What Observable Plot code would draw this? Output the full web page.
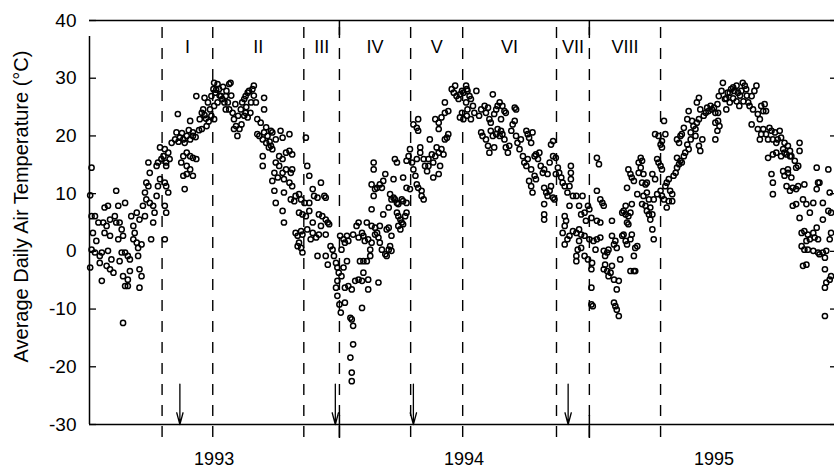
<!DOCTYPE html>
<html><head><meta charset="utf-8">
<script src="https://cdn.jsdelivr.net/npm/d3@7"></script>
<script src="https://cdn.jsdelivr.net/npm/@observablehq/plot@0.6"></script>
<style>body{margin:0;background:#fff} svg{display:block}</style>
</head><body><div id="chart"></div>
<script>
// [day of year (0 = Jan 1), average daily air temperature in °C]
const temps1993 = [
[3,14.5],[1,9.7],[3,6.1],[8,6.1],[13,5.0],[5,3.2],[10,1.8],[3,0.3],[8,-0.2],[15,-0.8],[1,-2.8],[15,-2.0],[18,-5.1],
[22,7.6],[27,7.9],[20,5.0],[25,4.4],[30,5.5],[22,3.2],[30,2.7],[18,-0.2],[27,0.1],[32,-1.4],[25,-2.5],[30,-3.1],[35,-3.7],
[39,10.5],[42,7.9],[37,6.1],[39,5.0],[44,5.0],[47,3.8],[42,2.1],[49,2.7],[52,8.4],[47,-0.2],[44,-1.7],[52,-0.2],[56,-0.8],[59,-1.4],[49,-4.3],[56,-4.9],[59,-3.4],[52,-6.0],[56,-6.0],[49,-12.4],
[61,6.1],[64,4.4],[69,6.7],[66,3.2],[64,2.1],[69,1.5],[71,0.6],[73,5.5],[76,1.2],[71,-0.8],[73,-3.1],[76,-4.3],[73,-6.3],
[81,6.1],[78,7.9],[81,10.2],[83,11.9],[86,11.3],[88,13.6],[86,15.4],[83,9.0],[88,8.4],[93,7.9],[95,6.7],[93,5.0],[90,2.1],[98,9.6],[100,11.3],[103,12.5],[98,14.8],[100,15.4],[105,16.0],[108,16.5],[112,14.8],[110,2.1],
[110,7.9],[112,6.7],[115,10.2],[112,11.3],[110,11.9],[103,18.0],[110,17.7],[115,17.1],[117,16.0],[112,15.4],
[120,18.8],[125,19.4],[127,20.6],[129,23.8],[132,19.7],[137,19.4],[142,20.0],[139,18.8],[147,19.4],[151,20.0],[151,20.6],[137,16.5],[142,17.1],[147,16.5],[151,16.2],[156,16.0],[134,15.4],[142,14.8],[147,14.2],[142,13.4],[137,13.1],[151,13.1],[139,10.8],
[147,22.6],[156,26.9],[161,22.9],[164,24.0],[166,24.6],[168,26.6],[173,25.8],[176,24.6],[178,23.5],[171,21.7],[164,21.2],[178,26.9],[181,28.1],
[170,23.0],[174,22.5],[168,23.6],[160,21.0],[130,19.0],[135,20.5],[145,21.0],[155,19.8],
[182,29.2],[187,29.0],[184,27.5],[189,28.1],[192,26.9],[194,26.4],[197,25.8],[199,26.9],[202,25.8],[204,29.0],[206,29.2],[204,24.6],[209,24.0],[199,24.6],[182,25.2],[182,22.9],[187,25.8],
[185,28.0],[190,27.0],[195,28.5],[200,27.8],[207,27.0],[213,25.5],[217,23.5],[222,22.0],[229,25.0],[235,24.0],[240,27.0],[258,21.5],[263,19.0],
[211,22.9],[214,21.7],[216,20.0],[219,21.2],[211,21.2],[221,24.6],[223,25.8],[226,26.4],[228,26.9],[231,27.5],[233,27.8],[238,28.1],[240,28.7],[236,25.8],[228,24.0],[226,23.5],[231,23.2],[243,25.8],[245,22.9],[250,22.3],[255,26.6],[255,24.6],
[245,20.3],[248,20.0],[253,19.4],[255,20.6],[260,20.0],[265,20.9],[267,20.6],[258,18.8],[262,18.0],[267,17.7],[265,18.3],[253,16.5],[253,14.8],[272,19.4],[279,20.9],[282,19.7],[292,20.3],
[277,16.5],[282,16.0],[287,17.1],[292,17.4],[296,16.8],[272,15.4],[277,14.8],[282,13.6],[287,14.2],[294,13.6],[296,14.2],[270,13.6],[267,12.2],[275,12.8],[284,12.5],[292,11.9],[296,11.3],
[270,10.5],[272,8.4],[284,10.2],[282,7.0],[284,5.0],[294,9.0],[299,8.7],[301,9.6],[306,9.9],[309,9.0],[314,8.4],[321,8.4],[326,10.8],[328,9.6],[333,9.3],[338,11.9],[343,9.6],[345,9.3],[321,13.1],[318,14.8],[316,19.7],
[306,6.7],[311,6.4],[316,6.1],[321,7.0],[326,5.0],[301,3.2],[304,2.7],[309,3.5],[311,2.9],[306,1.5],[304,0.9],[309,0.6],[311,-0.2],[318,3.8],[326,3.2],[323,2.1],[331,2.4],[335,6.4],[340,6.1],[345,5.5],[348,5.0],[350,4.7],[338,4.4],[345,2.9],[335,2.9],[333,-0.8],[345,-0.8],[348,-2.3],[352,0.9],[355,0.3],[357,-0.8],[360,-2.0],[362,-2.8],[364,-3.7],[362,-5.1],[360,-6.3],[362,-7.7]
];
const temps1994 = [
[0,-9.2],[2,-10.6],
[1,2.7],[6,2.1],[3,0.3],[8,1.5],[11,2.7],[13,1.8],[6,-2.8],[3,-4.3],[11,-1.7],[8,-6.3],[13,-6.0],[18,-6.6],[23,-5.1],[28,-4.9],[33,-5.1],[35,-3.7],[42,-4.9],[42,-6.6],[57,-5.4],[8,-8.9],[16,-11.5],[18,-11.8],[20,-12.9],[33,-9.8],[20,-16.1],[16,-18.4],[18,-21.0],[18,-22.5],[30,-1.7],[35,-1.7],[40,-1.7],
[20,2.9],[25,4.4],[28,5.0],[33,3.2],[35,2.7],[28,2.4],[37,1.8],[42,2.1],[45,0.3],[40,5.0],[47,4.4],[52,4.1],[55,3.2],[57,2.4],[59,1.5],[62,0.3],[67,-0.5],[69,-0.8],[72,0.3],[74,0.9],[76,0.1],[69,3.8],[72,4.1],[76,2.7],[59,4.4],[52,2.9],[45,-0.8],[47,1.5],
[47,7.3],[50,9.6],[52,10.8],[47,11.6],[55,11.0],[59,11.6],[62,11.0],[64,12.2],[67,13.4],[50,15.4],[50,14.2],[64,6.4],[72,7.6],[74,9.9],[79,9.3],[81,9.0],[84,8.4],[86,8.2],[91,9.0],[93,8.7],[98,8.4],[76,9.0],[79,12.5],
[84,6.7],[86,6.1],[89,5.5],[91,5.0],[93,4.7],[96,6.1],[98,6.7],[89,3.8],[86,4.4],[81,16.0],[84,15.4],[93,12.8],[98,15.7],[101,16.5],[103,17.7],[106,15.4],[108,14.2],[111,13.1],[113,11.6],[115,11.0],[103,10.8],[98,11.0],[120,10.5],[123,9.0],[120,9.6],[113,16.0],[118,18.0],[118,17.1],
[108,22.0],[113,21.4],[115,22.9],[115,20.9],[123,16.0],[125,14.8],[128,13.9],[130,14.8],[132,19.4],[130,16.0],[135,16.8],[137,15.4],[140,16.5],[142,18.0],[145,17.1],[147,14.8],[145,13.4],[137,12.8],[149,17.7],[152,16.8],[154,19.4],[157,19.7],[159,20.3],[140,22.9],[145,22.3],[145,21.2],[149,23.2],[154,24.0],[159,24.3],[154,25.8],[169,28.7],[167,27.5],[164,28.1],[171,26.9],[174,26.4],[176,27.2],[179,27.8],[181,27.5],[186,28.1],[176,23.2],[179,24.0],[181,22.9],[186,23.5],
[185,28.7],[187,27.8],[190,26.9],[185,25.8],[192,26.4],[195,25.2],[187,24.6],[192,22.9],[200,27.8],[197,24.0],[204,23.5],[207,24.6],[212,25.2],[214,24.0],[217,24.9],[219,22.9],[221,22.3],[224,27.2],[226,23.8],[229,24.6],[231,25.2],[234,25.8],[236,22.9],[238,25.2],[241,24.3],[243,24.0],[256,24.9],[258,24.6],
[207,20.6],[209,20.0],[214,19.4],[217,18.3],[219,17.1],[221,20.9],[224,20.0],[226,18.0],[229,20.3],[231,21.2],[234,20.0],[236,20.9],[238,20.3],[241,19.4],[243,18.0],[246,17.1],[248,18.3],[251,20.9],[253,22.0],[256,22.6],[258,20.0],[260,18.8],[263,17.7],[265,19.4],[273,20.9],[275,20.3],[277,19.7],[280,18.8],[282,20.6],
[268,16.5],[270,15.4],[273,14.8],[275,16.0],[280,14.2],[285,16.5],[287,16.8],[290,16.0],[292,17.1],[294,14.8],[297,13.6],[299,14.2],[304,13.4],[307,15.4],[309,18.5],[312,19.1],[312,16.5],[316,16.2],[277,12.2],[280,11.3],[282,10.2],[285,13.1],[287,12.5],[299,11.0],[302,10.2],[304,9.6],[307,10.5],[309,11.3],[312,9.3],[314,9.0],[316,13.4],[319,14.5],[321,13.6],[324,12.8],[326,11.9],[329,11.3],[333,10.2],[336,11.3],[338,14.8],[338,13.6],[338,12.5],[341,9.6],[346,9.6],[355,9.6],[299,8.2],[299,6.4],[299,5.5],
[329,6.1],[331,5.3],[329,4.4],[326,3.2],[329,1.2],[333,2.1],[336,2.7],[341,3.5],[346,3.2],[350,3.8],[353,2.9],[358,2.7],[350,1.8],[348,0.3],[346,-0.8],[346,-1.7],[353,0.6],[358,-0.8],[363,-1.4],[336,7.9],[350,7.9],[353,6.4],[358,6.7],[363,7.9],[360,5.3]
];
const temps1995 = [
[0,2.1],[3,-3.1],[3,-6.3],[3,-9.2],[5,-9.5],[0,7.3],[3,5.8],
[6,1.8],[9,0.3],[4,-2.0],[11,16.2],[14,15.1],[11,10.5],[16,9.0],[19,8.4],[21,7.9],[11,5.3],[16,5.0],[11,2.1],[16,2.4],[21,0.1],[26,-0.2],[28,0.3],[23,-0.8],[23,-2.3],[21,-3.1],[26,-3.4],[31,-3.7],[33,-2.5],[28,-4.3],[36,-4.9],[33,5.3],[33,2.7],[38,1.8],[36,1.2],[40,0.6],[45,-1.4],[43,-5.1],[40,-6.6],[38,-9.5],[36,-8.9],[40,-10.1],[43,-11.2],
[48,2.7],[50,2.9],[53,1.8],[55,1.2],[60,2.1],[62,2.9],[57,4.7],[53,6.4],[50,7.0],[48,6.7],[55,5.0],[57,6.1],[60,6.7],[53,7.9],[62,8.2],[55,11.0],[57,14.2],[60,13.4],[62,12.8],[65,12.2],[70,9.9],[72,15.4],[75,16.2],[77,15.7],[75,14.5],[72,13.6],[79,13.4],[77,11.9],[82,11.6],[84,11.9],[65,-0.8],[67,0.6],[70,0.9],[60,-3.4],[65,-3.4],[67,-3.4],
[77,8.2],[79,9.6],[84,10.2],[87,9.0],[89,7.6],[92,6.4],[89,5.5],[92,3.8],[94,2.1],[82,7.9],[84,7.0],[87,6.4],[94,9.0],[92,13.4],[96,12.5],[99,16.0],[101,15.4],[104,14.8],[106,14.2],[99,9.9],[104,10.5],[106,9.6],[109,9.0],[111,11.3],[113,11.9],[116,12.5],[118,10.5],[121,9.9],[113,7.6],[116,8.7],[121,8.7],[123,13.1],[126,13.6],[128,14.5],[131,15.1],[133,15.7],[135,15.4],[138,16.5],[140,17.1],[128,16.2],
[96,20.3],[101,20.0],[104,18.5],[106,19.1],[109,22.6],[111,20.3],[106,18.0],[128,19.4],[133,20.0],[131,18.8],[135,20.3],[138,21.4],[143,22.9],[145,24.3],[150,22.6],[148,20.6],[152,21.7],[155,21.2],[157,22.3],[160,22.9],[162,24.6],[157,25.8],[160,26.6],[148,19.4],[143,18.5],[145,17.7],[155,20.0],[160,18.3],[162,17.4],[165,19.4],[167,23.5],[170,24.0],[172,24.9],[174,24.3],[177,25.2],[179,24.6],[182,24.9],[184,24.0],[187,25.5],[189,26.9],[184,22.3],[187,20.9],[184,19.4],
[193,27.8],[195,29.2],[198,26.4],[200,24.6],[202,27.5],[205,25.8],[207,28.1],[210,28.4],[212,27.8],[215,28.7],[217,27.5],[219,25.2],[222,27.8],[224,29.2],[227,28.7],[229,28.1],[232,25.8],[234,25.2],[237,26.9],[239,24.6],[241,27.8],[244,28.7],[246,23.8],[249,22.9],[251,25.2],[254,24.3],[256,25.5],[258,24.3],[188,24.0],[188,22.6],[190,21.7],
[200,26.5],[205,27.5],[210,26.5],[215,26.0],[220,27.0],[225,26.0],[230,27.0],
[237,22.0],[246,21.2],[249,19.4],[251,20.3],[254,21.2],[258,20.3],[261,19.4],[263,21.4],[266,20.9],[268,19.4],[271,20.6],[273,18.8],[275,19.4],[278,20.9],[280,19.7],[283,17.7],[285,18.8],[288,16.8],[290,18.3],[293,17.4],[295,16.5],[300,15.7],[302,14.5],[305,14.8],[307,18.8],[307,17.4],[261,16.2],[268,16.8],[273,17.1],[280,16.5],[285,17.1],[293,16.5],
[266,13.4],[268,11.9],[268,9.9],[283,13.9],[285,13.1],[290,13.6],[295,12.8],[288,11.3],[293,10.5],[297,11.0],[302,10.8],[305,11.3],[314,11.6],[290,14.2],[297,7.9],[302,8.2],[307,5.8],[312,9.0],[317,8.2],[322,6.7],[327,8.4],[332,14.5],[334,11.9],[332,10.8],[336,11.9],[341,8.4],[349,14.2],[351,10.2],[353,6.7],[349,7.0],[341,5.5],
[310,3.2],[314,3.5],[319,2.9],[327,3.2],[332,4.1],[317,1.8],[322,2.1],[329,2.4],[334,2.1],[310,0.9],[314,0.3],[319,0.3],[327,0.1],[334,-0.2],[341,-0.2],[346,0.1],[336,-0.5],[344,-1.1],[312,-2.5],[317,-2.3],[351,2.1],[353,3.2],[344,-3.1],[346,-5.4],[344,-6.3],[351,-4.9],[353,-4.3],[344,-11.2]
];

const periodBounds = ["1993-04-17","1993-06-30","1993-11-10","1994-01-01","1994-04-15","1994-06-30","1994-11-14","1995-01-01","1995-04-15"];
const periodLabels = ["I","II","III","IV","V","VI","VII","VIII"];
const arrowDates = ["1993-05-13","1993-12-26","1994-04-19","1994-12-01"];
const yearStarts = ["1994-01-01","1995-01-01"];
const yearMids = ["1993-07-02","1994-07-02","1995-07-02"];
const yTicks = [-30,-20,-10,0,10,20,30,40];
const xDomain = ["1993-01-01","1995-12-25"];
const yTitle = "Average Daily Air Temperature (°C)";

const D = s => new Date(s);
const toDate = (y, d) => new Date(Date.UTC(y, 0, 1 + d));
const points = [[1993, temps1993], [1994, temps1994], [1995, temps1995]]
  .flatMap(([y, arr]) => arr.map(([d, t]) => ({date: toDate(y, d), temp: t})));
const bounds = periodBounds.map(D);
const periods = periodLabels.map((label, i) => ({
  label, mid: new Date((+bounds[i] + +bounds[i + 1]) / 2)
}));
const start = D(xDomain[0]);

const chart = Plot.plot({
  width: 834, height: 469,
  marginLeft: 89, marginRight: 0, marginTop: 20, marginBottom: 45,
  style: {fontFamily: "'Liberation Sans', Arial, Helvetica, sans-serif", background: "white", color: "black"},
  x: {type: "utc", domain: xDomain.map(D)},
  y: {domain: [-30, 40]},
  marks: [
    Plot.ruleX(bounds, {y1: -30, y2: 40, insetTop: 13, stroke: "black", strokeWidth: 1.4, strokeDasharray: "11,10"}),
    Plot.dot(points, {x: "date", y: "temp", r: 2.6, stroke: "black", strokeWidth: 1.5, fill: "none"}),
    Plot.ruleY([40], {stroke: "black", strokeWidth: 1.5}),
    Plot.ruleY([-30], {stroke: "black", strokeWidth: 1.5}),
    Plot.ruleX([start], {y1: -30, y2: 40, insetBottom: -16, stroke: "black", strokeWidth: 1.5}),
    Plot.axisY(yTicks, {anchor: "left", tickSize: 7, insetLeft: 7, tickPadding: 13, fontSize: 19, strokeWidth: 1.3, tickFormat: d => String(d), label: null}),
    Plot.axisY(yTicks, {anchor: "right", tickSize: 5, insetRight: 5, tickFormat: () => "", strokeWidth: 1.3, label: null}),
    Plot.axisX(yearStarts.map(D), {anchor: "bottom", tickSize: 23, insetBottom: 9, tickFormat: () => "", strokeWidth: 1.5, label: null}),
    Plot.axisX(yearStarts.map(D), {anchor: "top", tickSize: 14, insetTop: 14, tickFormat: () => "", strokeWidth: 1.5, label: null}),
    Plot.axisX(yearMids.map(D), {anchor: "bottom", tickSize: 0, tickPadding: 28, tickFormat: d3.utcFormat("%Y"), fontSize: 18, label: null}),
    Plot.text(periods, {x: "mid", y: 40, dy: 27, text: "label", fontSize: 18, fill: "black"}),
    Plot.arrow(arrowDates.map(D), {x1: d => d, x2: d => d, y1: -23, y2: -30, headLength: 14, headAngle: 30, stroke: "black", strokeWidth: 1.3}),
    Plot.text([yTitle], {frameAnchor: "left", textAnchor: "middle", dx: -68, dy: -16, rotate: -90, fontSize: 20, fill: "black"})
  ]
});
document.getElementById("chart").append(chart);
</script>
</body></html>
